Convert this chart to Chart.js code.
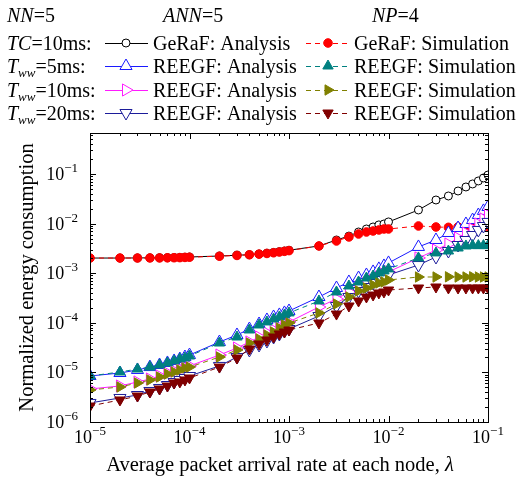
<!DOCTYPE html>
<html><head><meta charset="utf-8">
<style>html,body{margin:0;padding:0;background:#fff;}canvas{display:block;}</style>
<script src="https://cdn.jsdelivr.net/npm/chart.js@4/dist/chart.umd.min.js"></script>
</head><body>
<canvas id="c" width="522" height="483"></canvas>
<script>
// ---------- DATA ----------
const lambdaValues = [1e-5,2e-5,3e-5,4e-5,5e-5,6e-5,7e-5,8e-5,9e-5,
  1e-4,2e-4,3e-4,4e-4,5e-4,6e-4,7e-4,8e-4,9e-4,
  1e-3,2e-3,3e-3,4e-3,5e-3,6e-3,7e-3,8e-3,9e-3,
  1e-2,2e-2,3e-2,4e-2,5e-2,6e-2,7e-2,8e-2,9e-2,1e-1];

const gerafAnalysis = [2.02e-3,2.02e-3,2.03e-3,2.04e-3,2.05e-3,2.06e-3,2.07e-3,2.08e-3,2.10e-3,
  2.12e-3,2.22e-3,2.30e-3,2.36e-3,2.44e-3,2.53e-3,2.62e-3,2.72e-3,2.80e-3,
  2.90e-3,3.54e-3,4.67e-3,5.60e-3,6.77e-3,7.78e-3,8.54e-3,9.40e-3,9.82e-3,
  1.08e-2,1.88e-2,2.99e-2,3.60e-2,4.54e-2,5.47e-2,6.29e-2,7.23e-2,8.31e-2,9.54e-2];
const gerafSimulation = [2.02e-3,2.02e-3,2.02e-3,2.03e-3,2.03e-3,2.04e-3,2.05e-3,2.06e-3,2.08e-3,
  2.10e-3,2.20e-3,2.28e-3,2.35e-3,2.42e-3,2.50e-3,2.58e-3,2.67e-3,2.76e-3,
  2.85e-3,3.54e-3,4.46e-3,5.37e-3,6.17e-3,6.77e-3,7.09e-3,7.43e-3,7.78e-3,
  7.78e-3,8.95e-3,8.54e-3,8.40e-3,8.54e-3,8.60e-3,8.70e-3,8.70e-3,8.80e-3,8.80e-3];

const reegf5Analysis = [8.46e-6,9.72e-6,1.12e-5,1.28e-5,1.41e-5,1.55e-5,1.70e-5,1.86e-5,2.04e-5,
  2.24e-5,4.10e-5,5.68e-5,7.50e-5,9.46e-5,1.14e-4,1.31e-4,1.44e-4,1.58e-4,
  1.73e-4,3.31e-4,5.03e-4,6.65e-4,8.00e-4,9.20e-4,1.06e-3,1.22e-3,1.40e-3,
  1.61e-3,3.38e-3,4.67e-3,6.46e-3,8.15e-3,9.82e-3,1.18e-2,1.49e-2,1.80e-2,2.16e-2];
const reegf5Simulation = [8.46e-6,1.02e-5,1.17e-5,1.28e-5,1.41e-5,1.55e-5,1.70e-5,1.86e-5,1.95e-5,
  2.14e-5,3.91e-5,5.17e-5,7.16e-5,9.03e-5,1.04e-4,1.19e-4,1.31e-4,1.44e-4,
  1.58e-4,2.75e-4,4.18e-4,5.52e-4,6.65e-4,8.00e-4,8.78e-4,1.01e-3,1.11e-3,
  1.22e-3,2.03e-3,2.56e-3,2.80e-3,3.22e-3,3.54e-3,3.60e-3,3.60e-3,3.60e-3,3.60e-3];

const reegf10Analysis = [4.63e-6,5.32e-6,6.41e-6,7.36e-6,8.46e-6,9.72e-6,1.07e-5,1.17e-5,1.28e-5,
  1.35e-5,2.24e-5,3.10e-5,4.10e-5,5.17e-5,6.23e-5,7.16e-5,8.23e-5,9.46e-5,
  1.04e-4,2.08e-4,3.02e-4,4.18e-4,5.27e-4,6.34e-4,7.29e-4,8.38e-4,9.64e-4,
  1.06e-3,2.03e-3,2.94e-3,3.88e-3,5.13e-3,6.46e-3,7.78e-3,9.82e-3,1.24e-2,1.49e-2];
const reegf10Simulation = [4.42e-6,5.08e-6,6.11e-6,7.03e-6,8.08e-6,9.28e-6,1.02e-5,1.12e-5,1.23e-5,
  1.28e-5,2.04e-5,2.83e-5,3.91e-5,4.72e-5,5.68e-5,6.52e-5,7.86e-5,9.03e-5,
  9.91e-5,1.58e-4,2.39e-4,3.31e-4,4.38e-4,5.03e-4,5.78e-4,6.34e-4,6.65e-4,
  7.29e-4,8.38e-4,8.38e-4,8.45e-4,8.38e-4,8.38e-4,8.45e-4,8.38e-4,8.38e-4,8.38e-4];

const reegf20Analysis = [2.42e-6,3.05e-6,3.50e-6,4.22e-6,4.85e-6,5.57e-6,6.41e-6,7.03e-6,7.71e-6,
  8.46e-6,1.35e-5,2.04e-5,2.83e-5,3.57e-5,4.30e-5,5.17e-5,5.94e-5,6.83e-5,
  7.50e-5,1.37e-4,2.18e-4,3.31e-4,4.38e-4,5.27e-4,6.34e-4,7.29e-4,8.38e-4,
  9.20e-4,1.46e-3,2.12e-3,2.80e-3,3.70e-3,4.67e-3,5.89e-3,7.43e-3,8.95e-3,1.08e-2];
const reegf20Simulation = [2.10e-6,2.78e-6,3.34e-6,4.03e-6,4.63e-6,5.32e-6,6.11e-6,6.41e-6,7.03e-6,
  7.71e-6,1.28e-5,1.95e-5,2.96e-5,3.74e-5,4.50e-5,5.17e-5,5.94e-5,6.52e-5,
  7.16e-5,9.91e-5,1.50e-4,2.18e-4,2.75e-4,3.31e-4,3.63e-4,3.99e-4,4.18e-4,
  4.58e-4,5.03e-4,5.27e-4,5.03e-4,5.03e-4,5.03e-4,5.03e-4,5.03e-4,5.03e-4,5.03e-4];

const xTickExponents = [-5,-4,-3,-2,-1];
const yTickExponents = [-6,-5,-4,-3,-2,-1];
const seriesLabels = ['GeRaF: Analysis','GeRaF: Simulation',
  'REEGF: Analysis','REEGF: Simulation',
  'REEGF: Analysis','REEGF: Simulation',
  'REEGF: Analysis','REEGF: Simulation'];
const headerNames = ['NN','ANN','NP'];
const headerValues = ['=5','=5','=4'];
const conditionSymbols = ['TC','T','T','T'];
const conditionSubs = ['','ww','ww','ww'];
const conditionValues = ['=10ms:','=5ms:','=10ms:','=20ms:'];
const xAxisTitle = 'Average packet arrival rate at each node, ';
const xAxisSymbol = 'λ';
const yAxisTitle = 'Normalized energy consumption';

// ---------- STYLE / LAYOUT ----------
const SERIF = "'Liberation Serif','Times New Roman',serif";
const AREA = {left: 90, right: 488, top: 133, bottom: 422};
const W = 522, H = 483;

const styles = [
  {color:'#000000', fill:'#ffffff', style:'circle', rot:0, r:4, dash:[], order:8},
  {color:'#ff0000', fill:'#ff0000', style:'circle', rot:0, r:4.3, dash:[5,4], order:7},
  {color:'#1a1aff', fill:'#ffffff', style:'triangle', rot:0, r:7, dash:[], order:6},
  {color:'#008080', fill:'#008080', style:'triangle', rot:0, r:6, dash:[5,4], order:3},
  {color:'#ff1aff', fill:'#ffffff', style:'triangle', rot:90, r:7, dash:[], order:5},
  {color:'#808000', fill:'#808000', style:'triangle', rot:90, r:6, dash:[5,4], order:2},
  {color:'#1c1c9a', fill:'#ffffff', style:'triangle', rot:180, r:7, dash:[], order:4},
  {color:'#800000', fill:'#800000', style:'triangle', rot:180, r:6, dash:[5,4], order:1}
];
const seriesValues = [gerafAnalysis, gerafSimulation, reegf5Analysis, reegf5Simulation,
  reegf10Analysis, reegf10Simulation, reegf20Analysis, reegf20Simulation];

const datasets = seriesValues.map((vals, i) => {
  const s = styles[i];
  return {
    label: seriesLabels[i],
    data: lambdaValues.map((x, k) => ({x: x, y: vals[k]})),
    borderColor: s.color,
    backgroundColor: s.fill,
    borderWidth: 1,
    borderDash: s.dash,
    pointStyle: s.style,
    pointRotation: s.rot,
    pointRadius: s.r,
    pointBorderColor: s.color,
    pointBackgroundColor: s.fill,
    pointBorderWidth: 1,
    tension: 0,
    order: s.order
  };
});

function drawRich(ctx, parts, x, y) {
  let cx = x;
  for (const p of parts) {
    const size = p.size || 20;
    ctx.font = (p.i ? 'italic ' : '') + size + 'px ' + SERIF;
    ctx.fillText(p.t, cx, y + (p.dy || 0));
    cx += ctx.measureText(p.t).width;
  }
  return cx;
}
function richWidth(ctx, parts) {
  let w = 0;
  for (const p of parts) {
    ctx.font = (p.i ? 'italic ' : '') + (p.size || 20) + 'px ' + SERIF;
    w += ctx.measureText(p.t).width;
  }
  return w;
}
function powParts(e) {
  return [{t:'10', size:18}, {t:'\u2212' + Math.abs(e), size:13, dy:-8}];
}

const framePlugin = {
  id: 'frame',
  afterDatasetsDraw(chart) {
    const ctx = chart.ctx, xs = chart.scales.x, ys = chart.scales.y, a = chart.chartArea;
    ctx.save();
    ctx.strokeStyle = '#000';
    ctx.lineWidth = 1;
    ctx.beginPath();
    for (let e = -5; e <= -1; e++) {
      for (let m = 1; m <= 9; m++) {
        const v = m * Math.pow(10, e);
        if (v > 0.1000001) break;
        const px = Math.round(xs.getPixelForValue(v)) + 0.5;
        const len = m === 1 ? 6 : 3;
        ctx.moveTo(px, a.bottom); ctx.lineTo(px, a.bottom - len);
        ctx.moveTo(px, a.top); ctx.lineTo(px, a.top + len);
      }
    }
    for (let e = -6; e <= -1; e++) {
      for (let m = 1; m <= 9; m++) {
        const v = m * Math.pow(10, e);
        if (v > ys.max) break;
        const py = Math.round(ys.getPixelForValue(v)) + 0.5;
        const len = m === 1 ? 6 : 3;
        ctx.moveTo(a.left, py); ctx.lineTo(a.left + len, py);
        ctx.moveTo(a.right, py); ctx.lineTo(a.right - len, py);
      }
    }
    ctx.stroke();
    ctx.strokeRect(Math.round(a.left) + 0.5, Math.round(a.top) + 0.5,
      Math.round(a.right - a.left), Math.round(a.bottom - a.top));
    ctx.restore();
  },
  afterDraw(chart) {
    const ctx = chart.ctx, xs = chart.scales.x, ys = chart.scales.y, a = chart.chartArea;
    ctx.save();
    ctx.fillStyle = '#000';
    ctx.textAlign = 'left';
    ctx.textBaseline = 'alphabetic';
    xTickExponents.forEach(e => {
      const p = powParts(e);
      const w = richWidth(ctx, p);
      drawRich(ctx, p, xs.getPixelForValue(Math.pow(10, e)) - w / 2, a.bottom + 21);
    });
    yTickExponents.forEach(e => {
      const p = powParts(e);
      const w = richWidth(ctx, p);
      drawRich(ctx, p, a.left - 12 - w, ys.getPixelForValue(Math.pow(10, e)) + 6);
    });
    const tparts = [{t: xAxisTitle, size: 20.5}, {t: xAxisSymbol, size: 20.5, i: true}];
    const tw = richWidth(ctx, tparts);
    drawRich(ctx, tparts, 280 - tw / 2, 471);

    const headerX = [7, 163, 372];
    headerNames.forEach((n, i) => drawRich(ctx, [{t:n, i:true}, {t:headerValues[i]}], headerX[i], 22));

    const rowBase = [50, 73, 97, 120];
    for (let r = 0; r < 4; r++) {
      const by = rowBase[r];
      const parts = [{t: conditionSymbols[r], i: true}];
      if (conditionSubs[r]) parts.push({t: conditionSubs[r], i: true, size: 13, dy: 4});
      parts.push({t: conditionValues[r]});
      drawRich(ctx, parts, 7, by);
      const cy = by - 7;
      [[2 * r, 105, 148, 126, 153], [2 * r + 1, 306, 350, 328, 354]].forEach(([di, x0, x1, mx, tx]) => {
        const s = styles[di];
        ctx.save();
        ctx.strokeStyle = s.color;
        ctx.lineWidth = 1;
        ctx.setLineDash(s.dash);
        ctx.beginPath(); ctx.moveTo(x0, cy + 0.5); ctx.lineTo(x1, cy + 0.5); ctx.stroke();
        ctx.setLineDash([]);
        ctx.fillStyle = s.fill;
        ctx.strokeStyle = s.color;
        Chart.helpers.drawPoint(ctx, {pointStyle: s.style, radius: s.r, rotation: s.rot, borderWidth: 1}, mx, cy);
        ctx.restore();
        ctx.fillStyle = '#000';
        drawRich(ctx, [{t: seriesLabels[di]}], tx, by);
      });
    }
    ctx.restore();
  }
};

new Chart(document.getElementById('c'), {
  type: 'line',
  data: {datasets: datasets},
  options: {
    responsive: false,
    animation: false,
    devicePixelRatio: 1,
    layout: {padding: {top: AREA.top, left: 0, right: W - AREA.right, bottom: 0}},
    plugins: {legend: {display: false}, tooltip: {enabled: false}},
    scales: {
      x: {
        type: 'logarithmic', min: 1e-5, max: 1e-1,
        grid: {display: false}, border: {display: false},
        ticks: {display: false},
        afterFit: s => { s.height = H - AREA.bottom; }
      },
      y: {
        type: 'logarithmic', min: 1e-6, max: 0.67,
        grid: {display: false}, border: {display: false},
        ticks: {display: false},
        title: {display: true, text: yAxisTitle, color: '#000',
          font: {family: SERIF, size: 20.5}, padding: {top: 15, bottom: 0}},
        afterFit: s => { s.width = AREA.left; }
      }
    }
  },
  plugins: [framePlugin]
});
</script>
</body></html>
